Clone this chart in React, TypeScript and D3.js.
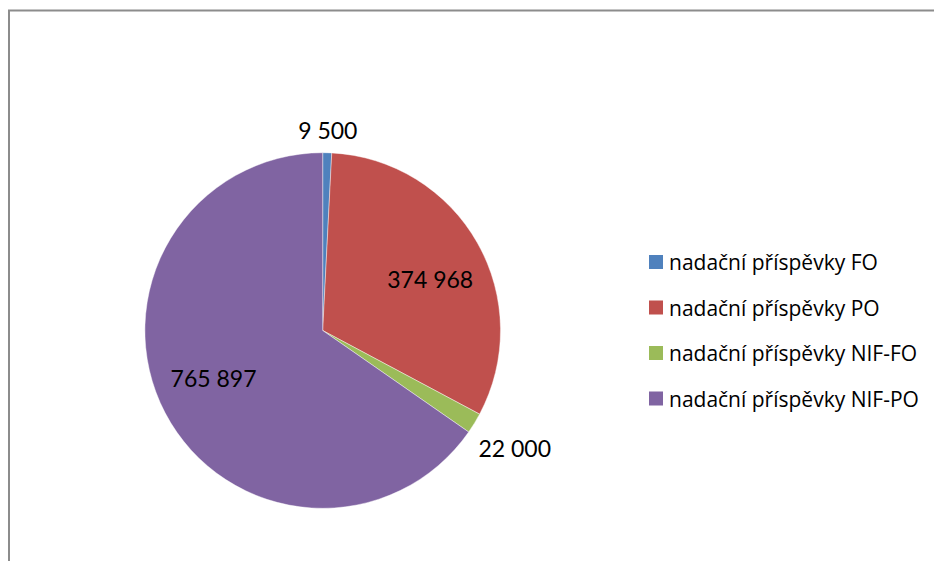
import React, { useRef, useEffect } from 'react'
import * as d3 from 'd3'

// chart data
const categories = ['nadační příspěvky FO', 'nadační příspěvky PO', 'nadační příspěvky NIF-FO', 'nadační příspěvky NIF-PO']
const values = [9500, 374968, 22000, 765897]
const labels = ['9 500', '374 968', '22 000', '765 897']
const colors = ['#4F81BD', '#C0504D', '#9BBB59', '#8064A2']

export default function App() {
  const ref = useRef<SVGSVGElement>(null)

  useEffect(() => {
    const svg = d3.select(ref.current)
    svg.selectAll('*').remove()

    const width = 934, height = 561
    const cx = 322.7, cy = 330.5, r = 177.8
    const labelFont = 'Lato, "Open Sans", sans-serif'
    const legendFont = '"Open Sans", Lato, sans-serif'

    // outer frame (cut off at right and bottom like the source)
    svg.append('rect')
      .attr('x', 9).attr('y', 10.5)
      .attr('width', width + 20).attr('height', height + 20)
      .attr('fill', 'none').attr('stroke', '#8c8c8c').attr('stroke-width', 2)

    const data = values.map((v, i) => ({ v, i }))
    const pie = d3.pie<{ v: number, i: number }>().value(d => d.v).sort(null)
    const arcs = pie(data)
    const arc = d3.arc<d3.PieArcDatum<{ v: number, i: number }>>().innerRadius(0).outerRadius(r)

    const g = svg.append('g').attr('transform', `translate(${cx},${cy})`)
    g.selectAll('path').data(arcs).join('path')
      .attr('d', arc)
      .attr('fill', d => colors[d.data.i])
      .attr('stroke', '#fff').attr('stroke-width', 0.6).attr('stroke-opacity', 0.7)

    // data labels: large slices inside, small slices outside
    const total = d3.sum(values)
    arcs.forEach(a => {
      const share = a.data.v / total
      const mid = (a.startAngle + a.endAngle) / 2
      const t = g.append('text')
        .attr('text-anchor', 'middle')
        .attr('dominant-baseline', 'central')
        .attr('font-family', labelFont)
        .attr('font-size', 23)
        .attr('fill', '#000')
        .text(labels[a.data.i])
      let x: number, y: number
      if (share > 0.1) {
        const ang = mid + 0.07
        const rr = r * 0.67
        x = Math.sin(ang) * rr
        y = -Math.cos(ang) * rr
      } else {
        const ux = Math.sin(mid), uy = -Math.cos(mid)
        const w = (t.node() as SVGTextElement).getBBox().width, h = 24
        const ext = Math.abs(ux) * w / 2 + Math.abs(uy) * h / 2
        const dist = r + 10 + ext
        x = ux * dist
        y = uy * dist
      }
      t.attr('x', x).attr('y', y)
    })

    // legend
    const legend = svg.append('g').attr('transform', 'translate(649,262)')
    const rowStep = 45.5
    categories.forEach((c, i) => {
      const row = legend.append('g').attr('transform', `translate(0,${i * rowStep})`)
      row.append('rect').attr('x', 0).attr('y', -7).attr('width', 14).attr('height', 14).attr('fill', colors[i])
      row.append('text')
        .attr('x', 20).attr('y', 0)
        .attr('dominant-baseline', 'central')
        .attr('font-family', legendFont)
        .attr('font-size', 21)
        .attr('fill', '#000')
        .text(c)
    })
  }, [])

  return (
    <svg ref={ref} width={934} height={561}
      style={{ position: 'absolute', left: 0, top: 0, background: '#fff' }} />
  )
}
